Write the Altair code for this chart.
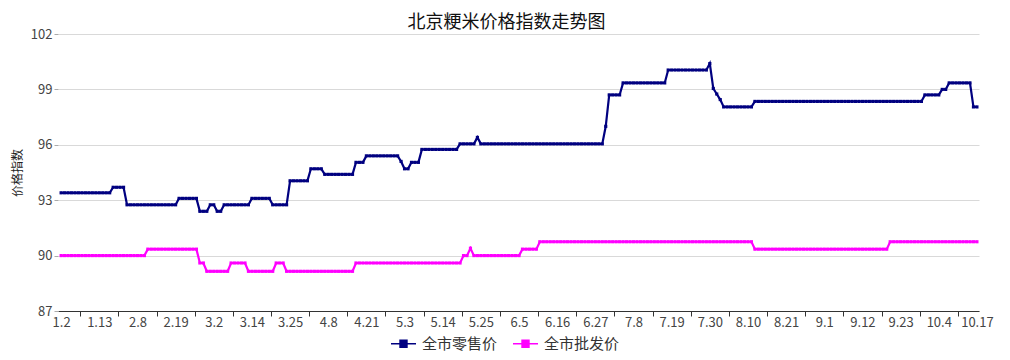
import altair as alt
import pandas as pd

FONT = "Noto Sans CJK SC"

title_text = "北京粳米价格指数走势图"
y_title = "价格指数"
series_names = ["全市零售价", "全市批发价"]
series_colors = ["#000080", "#ff00ff"]

tick_labels = ["1.2", "1.13", "2.8", "2.19", "3.2", "3.14", "3.25", "4.8", "4.21",
               "5.3", "5.14", "5.25", "6.5", "6.16", "6.27", "7.8", "7.19", "7.30",
               "8.10", "8.21", "9.1", "9.12", "9.23", "10.4", "10.17"]
y_ticks = [87, 90, 93, 96, 99, 102]

# one row per x-axis label interval (11 points each)
retail = [
    93.4, 93.4, 93.4, 93.4, 93.4, 93.4, 93.4, 93.4, 93.4, 93.4, 93.4,            # 1.2
    93.4, 93.4, 93.4, 93.4, 93.7, 93.7, 93.7, 93.7, 92.75, 92.75, 92.75,          # 1.13
    92.75, 92.75, 92.75, 92.75, 92.75, 92.75, 92.75, 92.75, 92.75, 92.75, 92.75,  # 2.8
    92.75, 93.1, 93.1, 93.1, 93.1, 93.1, 93.1, 92.4, 92.4, 92.4, 92.75,           # 2.19
    92.75, 92.4, 92.4, 92.75, 92.75, 92.75, 92.75, 92.75, 92.75, 92.75, 92.75,    # 3.2
    93.1, 93.1, 93.1, 93.1, 93.1, 93.1, 92.75, 92.75, 92.75, 92.75, 92.75,        # 3.14
    94.05, 94.05, 94.05, 94.05, 94.05, 94.05, 94.7, 94.7, 94.7, 94.7, 94.4,       # 3.25
    94.4, 94.4, 94.4, 94.4, 94.4, 94.4, 94.4, 94.4, 95.05, 95.05, 95.05,          # 4.8
    95.4, 95.4, 95.4, 95.4, 95.4, 95.4, 95.4, 95.4, 95.4, 95.4, 95.1,             # 4.21
    94.7, 94.7, 95.05, 95.05, 95.05, 95.75, 95.75, 95.75, 95.75, 95.75, 95.75,    # 5.3
    95.75, 95.75, 95.75, 95.75, 95.75, 96.05, 96.05, 96.05, 96.05, 96.05, 96.4,   # 5.14
    96.05, 96.05, 96.05, 96.05, 96.05, 96.05, 96.05, 96.05, 96.05, 96.05, 96.05,  # 5.25
    96.05, 96.05, 96.05, 96.05, 96.05, 96.05, 96.05, 96.05, 96.05, 96.05, 96.05,  # 6.5
    96.05, 96.05, 96.05, 96.05, 96.05, 96.05, 96.05, 96.05, 96.05, 96.05, 96.05,  # 6.16
    96.05, 96.05, 96.05, 97.0, 98.7, 98.7, 98.7, 98.7, 99.35, 99.35, 99.35,       # 6.27
    99.35, 99.35, 99.35, 99.35, 99.35, 99.35, 99.35, 99.35, 99.35, 99.35, 100.05, # 7.8
    100.05, 100.05, 100.05, 100.05, 100.05, 100.05, 100.05, 100.05, 100.05, 100.05, 100.05,  # 7.19
    100.4, 99.05, 98.75, 98.45, 98.05, 98.05, 98.05, 98.05, 98.05, 98.05, 98.05,  # 7.30
    98.05, 98.05, 98.35, 98.35, 98.35, 98.35, 98.35, 98.35, 98.35, 98.35, 98.35,  # 8.10
    98.35, 98.35, 98.35, 98.35, 98.35, 98.35, 98.35, 98.35, 98.35, 98.35, 98.35,  # 8.21
    98.35, 98.35, 98.35, 98.35, 98.35, 98.35, 98.35, 98.35, 98.35, 98.35, 98.35,  # 9.1
    98.35, 98.35, 98.35, 98.35, 98.35, 98.35, 98.35, 98.35, 98.35, 98.35, 98.35,  # 9.12
    98.35, 98.35, 98.35, 98.35, 98.35, 98.35, 98.35, 98.7, 98.7, 98.7, 98.7,      # 9.23
    98.7, 99.0, 99.0, 99.35, 99.35, 99.35, 99.35, 99.35, 99.35, 99.35, 98.05,     # 10.4
    98.05,                                                                        # 10.17
]

wholesale = [
    90.0, 90.0, 90.0, 90.0, 90.0, 90.0, 90.0, 90.0, 90.0, 90.0, 90.0,             # 1.2
    90.0, 90.0, 90.0, 90.0, 90.0, 90.0, 90.0, 90.0, 90.0, 90.0, 90.0,             # 1.13
    90.0, 90.0, 90.0, 90.35, 90.35, 90.35, 90.35, 90.35, 90.35, 90.35, 90.35,     # 2.8
    90.35, 90.35, 90.35, 90.35, 90.35, 90.35, 90.35, 89.6, 89.6, 89.15, 89.15,    # 2.19
    89.15, 89.15, 89.15, 89.15, 89.15, 89.6, 89.6, 89.6, 89.6, 89.6, 89.15,       # 3.2
    89.15, 89.15, 89.15, 89.15, 89.15, 89.15, 89.15, 89.6, 89.6, 89.6, 89.15,     # 3.14
    89.15, 89.15, 89.15, 89.15, 89.15, 89.15, 89.15, 89.15, 89.15, 89.15, 89.15,  # 3.25
    89.15, 89.15, 89.15, 89.15, 89.15, 89.15, 89.15, 89.15, 89.6, 89.6, 89.6,     # 4.8
    89.6, 89.6, 89.6, 89.6, 89.6, 89.6, 89.6, 89.6, 89.6, 89.6, 89.6,             # 4.21
    89.6, 89.6, 89.6, 89.6, 89.6, 89.6, 89.6, 89.6, 89.6, 89.6, 89.6,             # 5.3
    89.6, 89.6, 89.6, 89.6, 89.6, 89.6, 90.0, 90.0, 90.4, 90.0, 90.0,             # 5.14
    90.0, 90.0, 90.0, 90.0, 90.0, 90.0, 90.0, 90.0, 90.0, 90.0, 90.0,             # 5.25
    90.0, 90.35, 90.35, 90.35, 90.35, 90.35, 90.75, 90.75, 90.75, 90.75, 90.75,   # 6.5
    90.75, 90.75, 90.75, 90.75, 90.75, 90.75, 90.75, 90.75, 90.75, 90.75, 90.75,  # 6.16
    90.75, 90.75, 90.75, 90.75, 90.75, 90.75, 90.75, 90.75, 90.75, 90.75, 90.75,  # 6.27
    90.75, 90.75, 90.75, 90.75, 90.75, 90.75, 90.75, 90.75, 90.75, 90.75, 90.75,  # 7.8
    90.75, 90.75, 90.75, 90.75, 90.75, 90.75, 90.75, 90.75, 90.75, 90.75, 90.75,  # 7.19
    90.75, 90.75, 90.75, 90.75, 90.75, 90.75, 90.75, 90.75, 90.75, 90.75, 90.75,  # 7.30
    90.75, 90.75, 90.35, 90.35, 90.35, 90.35, 90.35, 90.35, 90.35, 90.35, 90.35,  # 8.10
    90.35, 90.35, 90.35, 90.35, 90.35, 90.35, 90.35, 90.35, 90.35, 90.35, 90.35,  # 8.21
    90.35, 90.35, 90.35, 90.35, 90.35, 90.35, 90.35, 90.35, 90.35, 90.35, 90.35,  # 9.1
    90.35, 90.35, 90.35, 90.35, 90.35, 90.35, 90.35, 90.35, 90.75, 90.75, 90.75,  # 9.12
    90.75, 90.75, 90.75, 90.75, 90.75, 90.75, 90.75, 90.75, 90.75, 90.75, 90.75,  # 9.23
    90.75, 90.75, 90.75, 90.75, 90.75, 90.75, 90.75, 90.75, 90.75, 90.75, 90.75,  # 10.4
    90.75,                                                                        # 10.17
]

n = len(retail)
step = (n - 1) // (len(tick_labels) - 1)
label_pos = [k * step for k in range(len(tick_labels))]
tick_pos = [k * step - step / 2 for k in range(1, len(tick_labels))]

df = pd.DataFrame({
    "idx": list(range(n)) * 2,
    "value": retail + wholesale,
    "series": [series_names[0]] * n + [series_names[1]] * n,
})

label_expr = "[" + ",".join(f"'{t}'" for t in tick_labels) + f"][round(datum.value / {step})]"

x_scale = alt.Scale(domain=[-0.9, n - 1 + 0.6], nice=False, zero=False)
y_scale = alt.Scale(domain=[87, 102], nice=False, zero=False)

y_enc = alt.Y("value:Q", scale=y_scale, title=y_title,
              axis=alt.Axis(values=y_ticks, grid=True, gridColor="#d9d9d9", domain=False,
                            tickColor="#aaaaaa", tickSize=4, labelPadding=2, labelFontSize=13,
                            labelColor="#444", labelFont=FONT, titleFont=FONT, titleFontSize=12,
                            titleFontWeight="normal", titleColor="#222", titlePadding=6))

lines = alt.Chart(df).mark_line(
    strokeWidth=2.2,
    point=alt.OverlayMarkDef(shape="square", size=10, filled=True),
).encode(
    x=alt.X("idx:Q", scale=x_scale, title=None,
            axis=alt.Axis(values=label_pos, labelExpr=label_expr, ticks=False, domain=False,
                          grid=False, labelPadding=5, labelFontSize=13, labelColor="#444",
                          labelFont=FONT, labelFlush=False, labelOverlap=False, orient="bottom")),
    y=y_enc,
    color=alt.Color("series:N",
                    scale=alt.Scale(domain=series_names, range=series_colors),
                    legend=alt.Legend(title=None, orient="none", direction="horizontal",
                                      legendX=332, legendY=296,
                                      symbolType="M-1,0L1,0M-0.28,-0.28L0.28,-0.28L0.28,0.28L-0.28,0.28Z",
                                      symbolSize=625, symbolStrokeWidth=1.4,
                                      labelFontSize=15, labelColor="#333", labelFont=FONT,
                                      labelOffset=5, columnPadding=12, padding=0)),
)

ticks_layer = alt.Chart(df).mark_point(opacity=0).encode(
    x=alt.X("idx:Q", scale=x_scale, title=None,
            axis=alt.Axis(values=tick_pos, labels=False, ticks=True, tickSize=5,
                          tickColor="#333333", domain=True, domainColor="#333333",
                          grid=False, orient="bottom")),
    y=y_enc,
)

chart = alt.layer(lines, ticks_layer).resolve_axis(x="independent").properties(
    width=921,
    height=277,
    autosize=alt.AutoSizeParams(type="none"),
    padding={"left": 50, "top": 26, "right": 23, "bottom": 41},
    background="white",
    title=alt.Title(title_text, font=FONT, fontSize=18, fontWeight="normal",
                    color="#111", anchor="middle", dx=-12, dy=4, offset=0),
).configure_view(stroke=None)

chart.save("out.html", embed_options={"renderer": "svg", "actions": False})
